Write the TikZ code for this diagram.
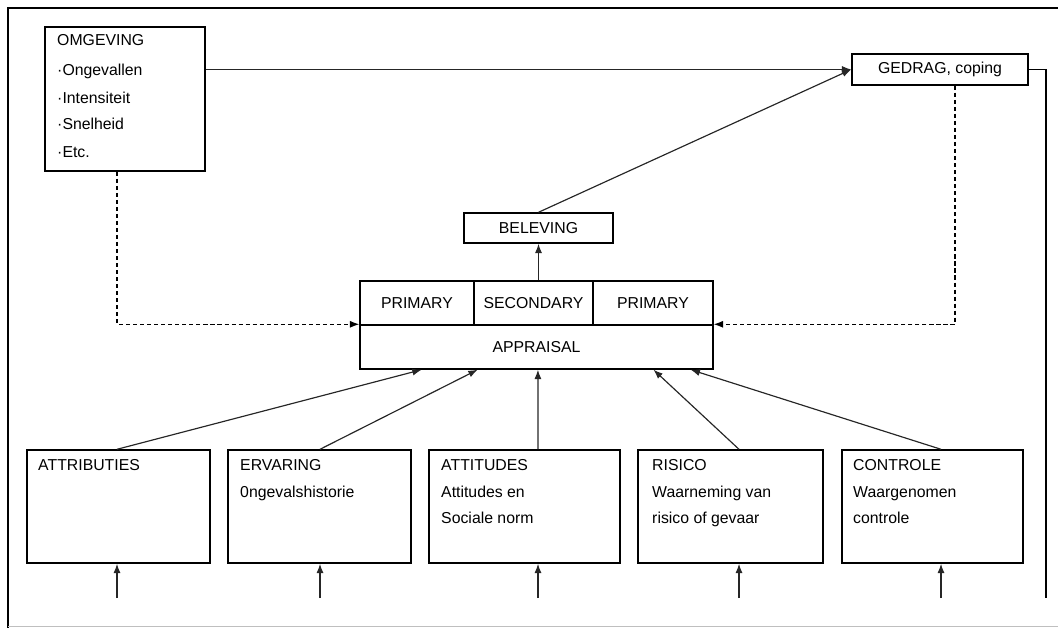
\documentclass[tikz,border=0pt]{standalone}
\usepackage{fontspec}
\setmainfont{Liberation Sans}
\usetikzlibrary{arrows.meta, calc, positioning}

\begin{document}
\begin{tikzpicture}[x=0.03cm, y=-0.03cm,
    every node/.style={font=\fontsize{13.5}{15}\selectfont},
    box/.style={draw, line width=1.2pt, inner sep=0},
    lbl/.style={anchor=west, inner sep=0, text height=1.45ex, text depth=0.35ex},
    pijl/.style={-{Latex[length=2.8mm,width=2.1mm]}, line width=1pt, black!85},
    stippel/.style={pijl, black, dash pattern=on 3.5pt off 2.5pt}]
    \useasboundingbox (0,0) rectangle (1058,628);
    \draw[line width=1.6pt] (8,628) -- (8,8) -- (1058,8);
    \draw[black!25] (8,626) -- (1058,626);

    % omgeving
    \node[box, minimum width=4.8cm, minimum height=4.32cm] (omg) at (125,99) {};
    \node[lbl] (omg0) at (57,42) {OMGEVING};
    \node[lbl] (omg1) at (57,72) {·Ongevallen};
    \node[lbl] (omg2) at (57,100) {·Intensiteit};
    \node[lbl] (omg3) at (57,126) {·Snelheid};
    \node[lbl] (omg4) at (57,154) {·Etc.};

    \node[box, minimum width=5.28cm, minimum height=0.93cm] (ged) at (940,69.5) {GEDRAG, coping};
    \node[box, minimum width=4.47cm, minimum height=0.9cm] (bel) at (538.5,228) {BELEVING};

    % appraisal
    \node[box, minimum width=3.42cm, minimum height=1.32cm] (prim1) at (417,303) {PRIMARY};
    \node[box, minimum width=3.57cm, minimum height=1.32cm] (sec) at (533.5,303) {SECONDARY};
    \node[box, minimum width=3.6cm, minimum height=1.32cm] (prim2) at (653,303) {PRIMARY};
    \node[box, minimum width=10.59cm, minimum height=1.32cm] (appr) at (536.5,347) {APPRAISAL};

    % onderste rij
    \node[box, minimum width=5.49cm, minimum height=3.39cm] (attr) at (118.5,506.5) {};
    \node[box, minimum width=5.49cm, minimum height=3.39cm] (erv) at (319.5,506.5) {};
    \node[box, minimum width=5.73cm, minimum height=3.39cm] (att) at (524.5,506.5) {};
    \node[box, minimum width=5.55cm, minimum height=3.39cm] (ris) at (730.5,506.5) {};
    \node[box, minimum width=5.43cm, minimum height=3.39cm] (ctl) at (932.5,506.5) {};

    \node[lbl] (attr0) at (38,467) {ATTRIBUTIES};
    \node[lbl] (erv0) at (240,467) {ERVARING};
    \node[lbl] (erv1) at (240,494) {0ngevalshistorie};
    \node[lbl] (att0) at (441,467) {ATTITUDES};
    \node[lbl] (att1) at (441,494) {Attitudes en};
    \node[lbl] (att2) at (441,520) {Sociale norm};
    \node[lbl] (ris0) at (652,467) {RISICO};
    \node[lbl] (ris1) at (652,494) {Waarneming van};
    \node[lbl] (ris2) at (652,520) {risico of gevaar};
    \node[lbl] (ctl0) at (853,467) {CONTROLE};
    \node[lbl] (ctl1) at (853,494) {Waargenomen};
    \node[lbl] (ctl2) at (853,520) {controle};

    \coordinate (b1) at (117,598);
    \coordinate (b2) at (320,598);
    \coordinate (b3) at (538,598);
    \coordinate (b4) at (739,598);
    \coordinate (b5) at (941,598);
    \coordinate (rechts) at (1046,598);

    \foreach \c/\n/\f in {b1/attr/0.176, b2/erv/0.334, b3/att/0.504, b4/ris/0.83, b5/ctl/0.935} {
        \draw[pijl] (\c) -- (\c |- \n.south);
        \draw[pijl] (\c |- \n.north) -- ($(appr.south west)!\f!(appr.south east)$);
    }

    \draw[pijl] (bel.south |- sec.north) -- (bel.south);
    \draw[pijl] (bel.north) -- (ged.west);
    \draw[pijl] (omg.east |- ged.west) -- (ged.west);
    \draw[line width=1.2pt] (ged.east) -| (rechts);
    \draw[stippel] (b1 |- omg.south) |- (appr.north west);
    \draw[stippel] ([xshift=0.45cm]ged.south) |- (appr.north east);
\end{tikzpicture}
\end{document}
